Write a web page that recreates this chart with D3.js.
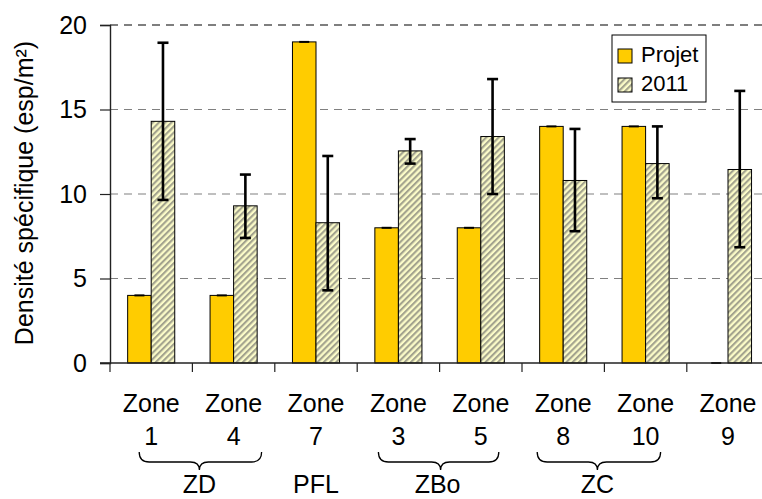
<!DOCTYPE html>
<html>
<head>
<meta charset="utf-8">
<script src="https://cdn.jsdelivr.net/npm/d3@7/dist/d3.min.js"></script>
<style>
html,body{margin:0;padding:0;background:#fff;}
svg{display:block;font-family:"Liberation Sans",Arial,sans-serif;}
</style>
</head>
<body>
<div id="chart"></div>
<script>
// ---- data ----
const categories = ["Zone 1","Zone 4","Zone 7","Zone 3","Zone 5","Zone 8","Zone 10","Zone 9"];
const zoneNames = ["Zone","Zone","Zone","Zone","Zone","Zone","Zone","Zone"];
const zoneNumbers = ["1","4","7","3","5","8","10","9"];
const seriesNames = ["Projet","2011"];
const projet = [4, 4, 19, 8, 8, 14, 14, 0];
const y2011 = [14.3, 9.3, 8.3, 12.55, 13.4, 10.8, 11.8, 11.45];
const err2011Low = [9.65, 7.4, 4.3, 11.8, 10.0, 7.8, 9.75, 6.85];
const err2011High = [18.95, 11.15, 12.25, 13.25, 16.8, 13.85, 14.0, 16.1];
const groups = [
  {label:"ZD", from:"Zone 1", to:"Zone 4", brace:true},
  {label:"PFL", from:"Zone 7", to:"Zone 7", brace:false},
  {label:"ZBo", from:"Zone 3", to:"Zone 5", brace:true},
  {label:"ZC", from:"Zone 8", to:"Zone 10", brace:true}
];
const braceOffsets = [[-12, 28, 7], [0,0,0], [-20, 18, 1], [-26, 15, -7]];
const labelOffsets = [[7, 0], [0, 0], [-2, 0], [-7, 0]];
const yTicks = [0, 5, 10, 15, 20];

// ---- layout ----
const W = 762, H = 499;
const svg = d3.select("#chart").append("svg").attr("width", W).attr("height", H);

const defs = svg.append("defs");
const pat = defs.append("pattern").attr("id","hatch").attr("patternUnits","userSpaceOnUse")
  .attr("width",4.4).attr("height",4.4).attr("patternTransform","rotate(45)");
pat.append("rect").attr("width",4.4).attr("height",4.4).attr("fill","#fbfbc8");
pat.append("rect").attr("width",2.1).attr("height",4.4).attr("fill","#a3a38e");

const x = d3.scaleBand().domain(categories).range([110, 769.2]).paddingInner(0).paddingOuter(0);
const xs = d3.scaleBand().domain(seriesNames).range([0, x.bandwidth()]).paddingInner(0).paddingOuter(0.75);
const y = d3.scaleLinear().domain([0, 20]).range([363, 25]);

// gridlines
svg.append("g").selectAll("line").data(yTicks.filter(d => d > 0)).join("line")
  .attr("x1", 110).attr("x2", W).attr("y1", d => y(d)).attr("y2", d => y(d))
  .attr("stroke", d => d === 20 ? "#555" : "#808080")
  .attr("stroke-width", d => d === 20 ? 1.6 : 1.2)
  .attr("stroke-dasharray", "8,6");

// bars
const projData = categories.map((c, i) => ({c, v: projet[i]}));
const yrData = categories.map((c, i) => ({c, v: y2011[i], lo: err2011Low[i], hi: err2011High[i]}));

svg.append("g").selectAll("rect").data(projData).join("rect")
  .attr("x", d => x(d.c) + xs("Projet")).attr("width", xs.bandwidth())
  .attr("y", d => y(d.v)).attr("height", d => y(0) - y(d.v))
  .attr("fill", "#FFCC00").attr("stroke", "#000").attr("stroke-width", 1);

svg.append("g").selectAll("rect").data(yrData).join("rect")
  .attr("x", d => x(d.c) + xs("2011")).attr("width", xs.bandwidth())
  .attr("y", d => y(d.v)).attr("height", d => y(0) - y(d.v))
  .attr("fill", "url(#hatch)").attr("stroke", "#000").attr("stroke-width", 1);

// zero-length error caps on Projet
svg.append("g").selectAll("line").data(projData).join("line")
  .attr("x1", d => x(d.c) + xs("Projet") + xs.bandwidth()/2 - 5)
  .attr("x2", d => x(d.c) + xs("Projet") + xs.bandwidth()/2 + 5)
  .attr("y1", d => y(d.v)).attr("y2", d => y(d.v))
  .attr("stroke", "#000").attr("stroke-width", 2);

// error bars 2011
const eb = svg.append("g").selectAll("g").data(yrData).join("g")
  .attr("transform", d => `translate(${x(d.c) + xs("2011") + xs.bandwidth()/2},0)`);
eb.append("line").attr("y1", d => y(d.lo)).attr("y2", d => y(d.hi))
  .attr("stroke", "#000").attr("stroke-width", 2.6);
eb.append("line").attr("x1", -5.5).attr("x2", 5.5).attr("y1", d => y(d.hi)).attr("y2", d => y(d.hi))
  .attr("stroke", "#000").attr("stroke-width", 2.6);
eb.append("line").attr("x1", -5.5).attr("x2", 5.5).attr("y1", d => y(d.lo)).attr("y2", d => y(d.lo))
  .attr("stroke", "#000").attr("stroke-width", 2.6);

// y axis
const yAxis = svg.append("g").attr("transform", "translate(110,0)")
  .call(d3.axisLeft(y).tickValues(yTicks).tickSize(10).tickPadding(13).tickFormat(d3.format("d")));
yAxis.select(".domain").attr("stroke", "#222").attr("stroke-width", 1.4);
yAxis.selectAll(".tick line").attr("stroke", "#222").attr("stroke-width", 1.2);
yAxis.selectAll(".tick text").attr("font-size", 25).attr("fill", "#000")
  .attr("font-family", "Liberation Sans, Arial, sans-serif");

// x axis baseline
svg.append("line").attr("x1", 100).attr("x2", W).attr("y1", y(0)).attr("y2", y(0))
  .attr("stroke", "#222").attr("stroke-width", 1.4);
// category boundary ticks
const bounds = categories.map(c => x(c)).concat([x.range()[1]]);
svg.append("g").selectAll("line").data(bounds).join("line")
  .attr("x1", d => d).attr("x2", d => d).attr("y1", y(0)).attr("y2", y(0) + 9)
  .attr("stroke", "#222").attr("stroke-width", 1.2);

// category labels
const cl = svg.append("g").attr("font-size", 25).attr("text-anchor", "middle").attr("fill", "#000");
cl.selectAll("text.z").data(categories).join("text").attr("class","z")
  .attr("x", d => x(d) + x.bandwidth()/2).attr("y", 412).text((d, i) => zoneNames[i]);
cl.selectAll("text.n").data(categories).join("text").attr("class","n")
  .attr("x", d => x(d) + x.bandwidth()/2).attr("y", 445).text((d, i) => zoneNumbers[i]);

// braces and group labels
const cx = c => x(c) + x.bandwidth()/2;
const bg = svg.append("g");
groups.forEach((g, i) => {
  const o = braceOffsets[i];
  if (g.brace) {
    const x1 = cx(g.from) + o[0], x2 = cx(g.to) + o[1];
    const m = (cx(g.from) + cx(g.to)) / 2 + o[2];
    const t = 452, h = 462, b = 470;
    const p = `M${x1},${t} Q${x1},${h} ${x1+10},${h} L${m-9},${h} Q${m},${h} ${m},${b} Q${m},${h} ${m+9},${h} L${x2-10},${h} Q${x2},${h} ${x2},${t}`;
    bg.append("path").attr("d", p).attr("fill", "none").attr("stroke", "#000").attr("stroke-width", 1.3);
  }
  const lo = labelOffsets[i];
  bg.append("text").attr("x", (cx(g.from) + cx(g.to)) / 2 + lo[0]).attr("y", 493 + lo[1])
    .attr("text-anchor", "middle").attr("font-size", 25).text(g.label);
});

// y title
svg.append("text").attr("transform", "translate(33,193) rotate(-90)")
  .attr("text-anchor", "middle").attr("font-size", 25).text("Densité spécifique (esp/m²)");

// legend
const lg = svg.append("g");
lg.append("rect").attr("x", 612).attr("y", 35).attr("width", 94).attr("height", 67)
  .attr("fill", "#fff").attr("stroke", "#000").attr("stroke-width", 1);
const legFills = ["#FFCC00", "url(#hatch)"];
const li = lg.selectAll("g").data(seriesNames).join("g")
  .attr("transform", (d, i) => `translate(618,${49 + i * 29})`);
li.append("rect").attr("width", 14).attr("height", 14).attr("fill", (d, i) => legFills[i])
  .attr("stroke", "#000").attr("stroke-width", 1);
li.append("text").attr("x", 23).attr("y", 13).attr("font-size", 22).text(d => d);
</script>
</body>
</html>
